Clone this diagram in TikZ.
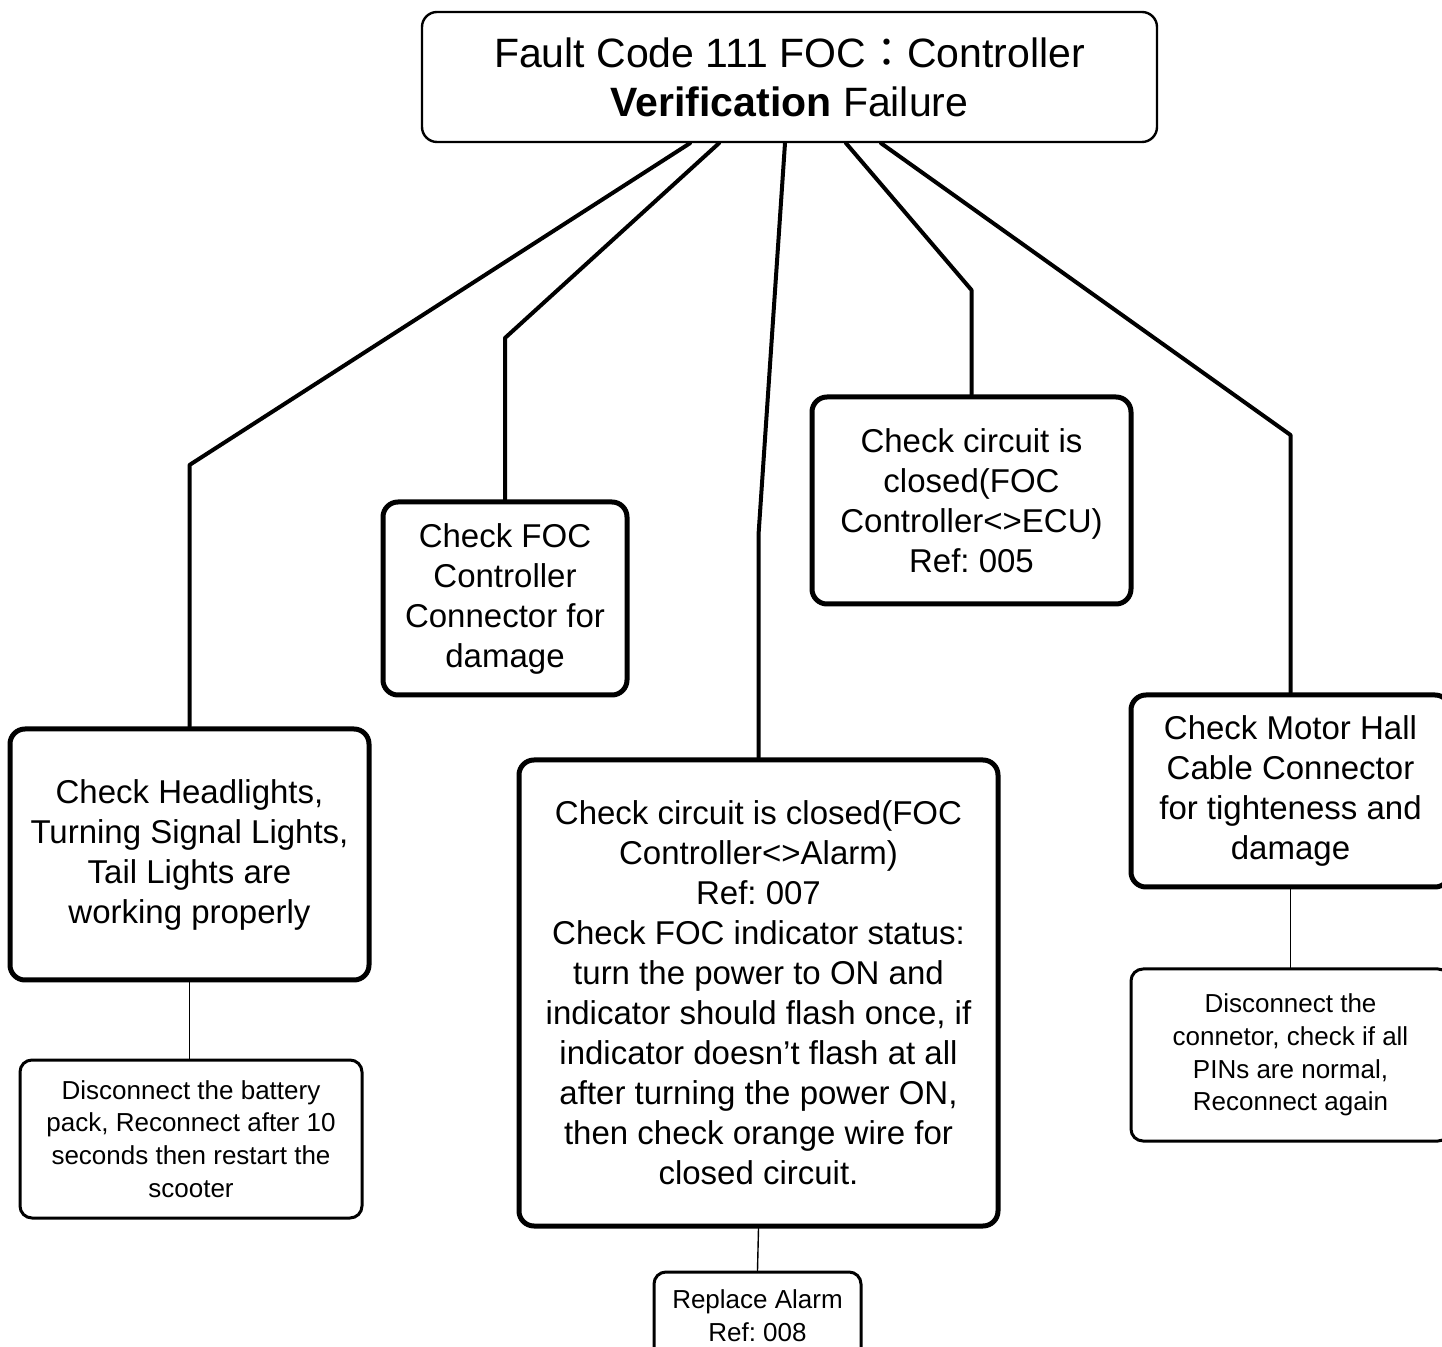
\documentclass[tikz,border=0pt]{standalone}
\usepackage{fontspec}
\setmainfont{Liberation Sans}
\newfontfamily\cjk{Noto Sans CJK TC}
\frenchspacing

\begin{document}
\begin{tikzpicture}
			[line cap=round,line join=round,x=0.5pt,y=-0.5pt,
			chk/.style={draw,line width=2.5pt,rounded corners=7.5pt,align=center,inner sep=0pt,font=\fontsize{16.5}{20}\selectfont},
			fix/.style={draw,line width=1.5pt,rounded corners=6pt,align=center,inner sep=0pt,font=\fontsize{13}{16.3}\selectfont},
			link/.style={line width=2pt},
			tie/.style={line width=0.7pt}]
			\useasboundingbox (0,0) rectangle (1442,1347);
			\node [draw,line width=1.2pt,rounded corners=7.5pt,align=center,minimum width=367.5pt,minimum height=65pt,font=\fontsize{20.5}{24.5}\selectfont] (title) at (789.5,77) {Fault Code 111 FOC{\cjk ：}Controller\\\textbf{Verification} Failure};
			\node [chk,minimum width=179.5pt,minimum height=125.5pt] (head) at (189.5,854.5) {Check Headlights,\\Turning Signal Lights,\\Tail Lights are\\working properly};
			\node [fix,minimum width=171pt,minimum height=79pt] (battery) at (191,1139) {Disconnect the battery\\pack, Reconnect after 10\\seconds then restart the\\scooter};
			\node [chk,minimum width=122pt,minimum height=96.5pt] (plug) at (505,598.5) {Check FOC\\Controller\\Connector for\\damage};
			\node [chk,minimum width=239.5pt,minimum height=233pt] (alarm) at (758.5,993) {Check circuit is closed(FOC\\Controller<>Alarm)\\Ref: 007\\Check FOC indicator status:\\turn the power to ON and\\indicator should flash once, if\\indicator doesn’t flash at all\\after turning the power ON,\\then check orange wire for\\closed circuit.};
			\node [fix,minimum width=103.5pt,minimum height=44pt] (replace) at (757.5,1316) {Replace Alarm\\Ref: 008};
			\node [chk,minimum width=159.5pt,minimum height=103.5pt] (ecu) at (971.5,500.5) {Check circuit is\\closed(FOC\\Controller<>ECU)\\Ref: 005};
			\node [chk,minimum width=159.5pt,minimum height=96pt] (hall) at (1290.5,791) {Check Motor Hall\\Cable Connector\\for tighteness and\\damage};
			\node [fix,minimum width=159.5pt,minimum height=86pt] (pins) at (1290.5,1055) {Disconnect the\\connetor, check if all\\PINs are normal,\\Reconnect again};
			\draw [link] (title.south -| 690,0) -- (head.north |- 0,465) -- (head.north);
			\draw [link] (title.south -| 719,0) -- (plug.north |- 0,338) -- (plug.north);
			\draw [link] (title.south -| 785,0) -- (alarm.north |- 0,535) -- (alarm.north);
			\draw [link] (title.south -| 846,0) -- (ecu.north |- 0,290) -- (ecu.north);
			\draw [link] (title.south -| 881,0) -- (hall.north |- 0,435) -- (hall.north);
			\draw [tie] (head.south) -- (head.south |- battery.north);
			\draw [tie] (alarm.south) -- (replace.north);
			\draw [tie] (hall.south) -- (hall.south |- pins.north);
		\end{tikzpicture}
\end{document}
